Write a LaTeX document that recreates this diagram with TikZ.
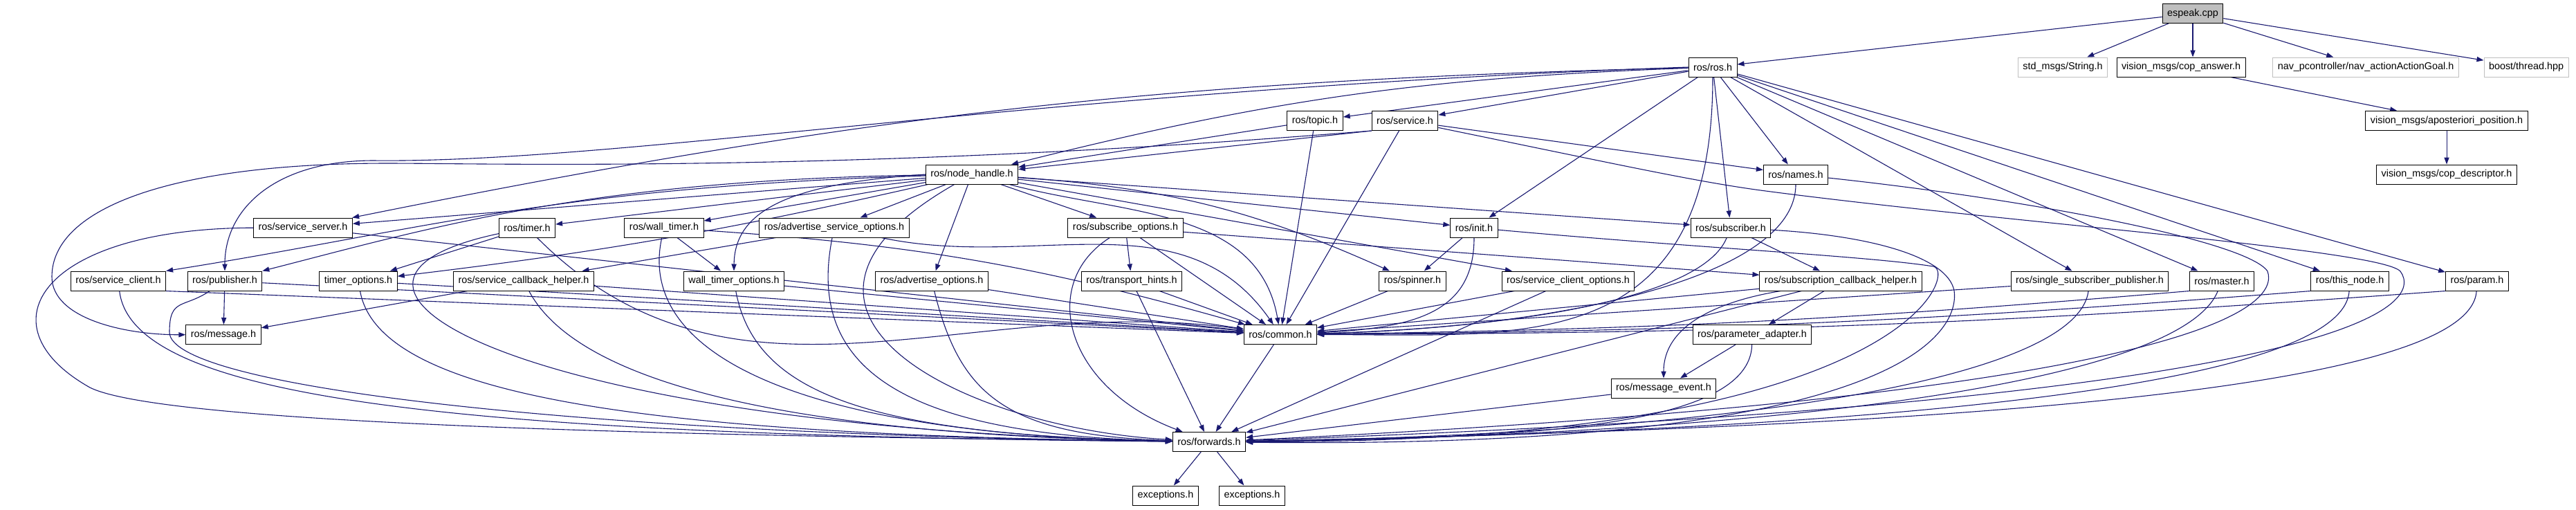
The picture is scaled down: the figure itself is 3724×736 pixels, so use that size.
\documentclass[tikz,border=0pt]{standalone}
\usepackage{fontspec}
\setmainfont{Liberation Sans}
\usetikzlibrary{arrows.meta,backgrounds}
\definecolor{edgeblue}{RGB}{25,25,112}
\definecolor{boxgray}{RGB}{191,191,191}

\begin{document}
\begin{tikzpicture}[x=0.5pt, y=-0.5pt,
    hdr/.style={draw=black, line width=0.5pt, fill=white, inner xsep=3.5pt, inner ysep=0pt,
                minimum height=14pt, font=\fontsize{7.2}{8.6}\selectfont},
    exthdr/.style={hdr, draw=boxgray},
    srcfile/.style={hdr, fill=boxgray},
    incl/.style={draw=edgeblue, line width=0.55pt, -{Triangle[length=5pt,width=3.6pt]}}]

\useasboundingbox (0,0) rectangle (3724,736);

\node[srcfile] (espeak) at (3170,19.5) {espeak.cpp};

\node[hdr]    (ros)     at (2476,97) {ros/ros.h};
\node[exthdr] (strmsg)  at (2982,97) {std\_msgs/String.h};
\node[hdr]    (copans)  at (3153,97) {vision\_msgs/cop\_answer.h};
\node[exthdr] (navgoal) at (3420,97) {nav\_pcontroller/nav\_actionActionGoal.h};
\node[exthdr] (boost)   at (3652,97) {boost/thread.hpp};

\node[hdr] (topic)   at (1901,174.5) {ros/topic.h};
\node[hdr] (service) at (2031,174.5) {ros/service.h};
\node[hdr] (apost)   at (3537,174.5) {vision\_msgs/aposteriori\_position.h};

\node[hdr] (nh)      at (1405,252) {ros/node\_handle.h};
\node[hdr] (names)   at (2596,252) {ros/names.h};
\node[hdr] (copdesc) at (3537,252) {vision\_msgs/cop\_descriptor.h};

\node[hdr] (srvserver)  at (438,329)  {ros/service\_server.h};
\node[hdr] (timer)      at (762,329)  {ros/timer.h};
\node[hdr] (walltimer)  at (960,329)  {ros/wall\_timer.h};
\node[hdr] (advsrvopt)  at (1206,329) {ros/advertise\_service\_options.h};
\node[hdr] (subopt)     at (1627,329) {ros/subscribe\_options.h};
\node[hdr] (init)       at (2131,329) {ros/init.h};
\node[hdr] (subscriber) at (2502,329) {ros/subscriber.h};

\node[hdr] (srvclient)    at (171,406)  {ros/service\_client.h};
\node[hdr] (publisher)    at (325,406)  {ros/publisher.h};
\node[hdr] (timeropt)     at (518,406)  {timer\_options.h};
\node[hdr] (srvcbhelper)  at (757,406)  {ros/service\_callback\_helper.h};
\node[hdr] (walltimeropt) at (1061,406) {wall\_timer\_options.h};
\node[hdr] (advopt)       at (1347,406) {ros/advertise\_options.h};
\node[hdr] (transport)    at (1636,406) {ros/transport\_hints.h};
\node[hdr] (spinner)      at (2042,406) {ros/spinner.h};
\node[hdr] (srvclientopt) at (2267,406) {ros/service\_client\_options.h};
\node[hdr] (subcbhelper)  at (2661,406) {ros/subscription\_callback\_helper.h};
\node[hdr] (ssp)          at (3021,406) {ros/single\_subscriber\_publisher.h};
\node[hdr] (master)       at (3212,406) {ros/master.h};
\node[hdr] (thisnode)     at (3397,406) {ros/this\_node.h};
\node[hdr] (param)        at (3581,406) {ros/param.h};

\node[hdr] (message)      at (323,483.5)  {ros/message.h};
\node[hdr] (common)       at (1851,483.5) {ros/common.h};
\node[hdr] (paramadapter) at (2533,483.5) {ros/parameter\_adapter.h};
\node[hdr] (msgevent)     at (2405,561)   {ros/message\_event.h};
\node[hdr] (forwards)     at (1748,638.5) {ros/forwards.h};
\node[hdr] (exc1)         at (1685,716)   {exceptions.h};
\node[hdr] (exc2)         at (1810,716)   {exceptions.h};

\begin{pgfonlayer}{background}
% straight includes
\foreach \a/\b in {espeak/ros, espeak/strmsg, espeak/navgoal, espeak/boost,
    copans/apost, apost/copdesc,
    ros/topic, ros/service, ros/init, ros/subscriber, ros/names, ros/ssp, ros/master, ros/thisnode, ros/param,
    topic/nh, topic/common, service/common, service/names,
    nh/srvserver, nh/timer, nh/walltimer, nh/advsrvopt, nh/subopt, nh/advopt, nh/init, nh/subscriber,
    nh/srvclientopt,
    srvserver/common, timer/timeropt, walltimer/walltimeropt, advsrvopt/srvcbhelper,
    subopt/transport, subopt/common, subopt/subcbhelper, init/spinner, subscriber/subcbhelper,
    publisher/message, publisher/common, timeropt/common, srvcbhelper/message, srvcbhelper/common,
    walltimeropt/common, advopt/common, transport/common, transport/forwards,
    spinner/common, srvclientopt/common, srvclientopt/forwards,
    subcbhelper/common, subcbhelper/paramadapter, subcbhelper/forwards, ssp/common,
    common/forwards, paramadapter/msgevent, msgevent/forwards, forwards/exc1, forwards/exc2}
  \draw[incl] (\a) -- (\b);

\draw[incl] (espeak.south) -- (espeak.south |- copans.north);
\draw[incl] (service.south west) -- (nh);
\draw[incl] (srvclient.south east) -- (common);
\foreach \a in {master, thisnode, param}
  \draw[incl] (\a.south west) to[bend left=2] (common);

% bent includes
\draw[incl] (ros) to[bend right=6] (nh);
\draw[incl] (ros) to[bend right=5] (srvserver);
\draw[incl] (ros.west) .. controls (1500,130) and (900,236) .. (540,232)
                       .. controls (400,232) and (325,300) .. (publisher);
\draw[incl] (ros) .. controls +(0,420) and +(350,0) .. (common);
\draw[incl] (service.south west) .. controls (1231,250) and (710,236) .. (560,236)
                                 .. controls (250,236) and (75,300) .. (75,400)
                                 .. controls (75,460) and (180,484) .. (message);
\draw[incl] (service) .. controls (2350,240) and (2450,262) .. (2545,275)
                      .. controls (2900,322) and (3440,360) .. (3470,392)
                      .. controls (3505,440) and (3420,580) .. (forwards);
\draw[incl] (names) .. controls +(0,150) and +(400,-10) .. (common);
\draw[incl] (names) .. controls (2950,290) and (3250,350) .. (3278,392)
                    .. controls (3295,440) and (3200,570) .. (forwards);
\draw[incl] (nh) .. controls (800,270) and (600,335) .. (srvclient.north east);
\draw[incl] (nh) .. controls (850,260) and (620,330) .. (publisher.north east);
\draw[incl] (nh) to[bend left=3] (timeropt);
\draw[incl] (nh.west) .. controls (1150,265) and (1062,300) .. (walltimeropt.north);
\draw[incl] (nh) to[bend left=10] (spinner);
\draw[incl] (nh) to[out=-15,in=100] (common);
\draw[incl] (nh) .. controls +(-350,200) and +(-350,-20) .. (forwards);
\draw[incl] (timer) to[out=-45,in=172] (common);
\draw[incl] (timer) .. controls +(-380,80) and +(-1000,-20) .. (forwards);
\draw[incl] (walltimer) to[bend left=6] (common);
\draw[incl] (walltimer) .. controls +(-40,180) and +(-600,-10) .. (forwards);
\draw[incl] (advsrvopt) to[out=-12,in=125] (common);
\draw[incl] (advsrvopt) .. controls +(-40,200) and +(-450,-10) .. (forwards);
\draw[incl] (subopt) .. controls (1500,410) and (1540,560) .. (forwards);
\draw[incl] (init) .. controls +(0,120) and +(200,-10) .. (common);
\draw[incl] (init) .. controls (2450,358) and (2700,370) .. (2795,385)
                   .. controls (2830,392) and (2760,640) .. (forwards);
\draw[incl] (subscriber) .. controls +(-40,100) and +(350,-10) .. (common);
\draw[incl] (subscriber) .. controls (2700,340) and (2815,370) .. (2825,420)
                         .. controls (2832,470) and (2780,650) .. (forwards);
\draw[incl] (srvserver) .. controls (60,330) and (-30,470) .. (130,560)
                        .. controls (250,620) and (1200,632) .. (forwards);
\draw[incl] (srvclient) .. controls +(20,170) and +(-1100,-10) .. (forwards);
\draw[incl] (publisher) .. controls +(-60,40) and +(0,-50) .. (245,480)
                        .. controls +(0,80) and +(-900,-10) .. (forwards);
\draw[incl] (timeropt) .. controls +(30,170) and +(-800,-10) .. (forwards);
\draw[incl] (srvcbhelper) .. controls +(80,150) and +(-600,-10) .. (forwards);
\draw[incl] (walltimeropt) .. controls +(30,160) and +(-500,-10) .. (forwards);
\draw[incl] (advopt) .. controls +(40,160) and +(-300,-10) .. (forwards);
\draw[incl] (subcbhelper) .. controls +(-180,30) and +(0,-90) .. (msgevent);
\draw[incl] (paramadapter) .. controls +(-3,136) and +(450,-5) .. (forwards);
\draw[incl] (ssp) .. controls +(-20,150) and +(700,-10) .. (forwards);
\draw[incl] (master) .. controls +(-60,150) and +(800,-10) .. (forwards);
\draw[incl] (thisnode) .. controls +(-10,160) and +(900,-15) .. (forwards);
\draw[incl] (param) .. controls +(-10,165) and +(1000,-20) .. (forwards);
\end{pgfonlayer}

\end{tikzpicture}
\end{document}
